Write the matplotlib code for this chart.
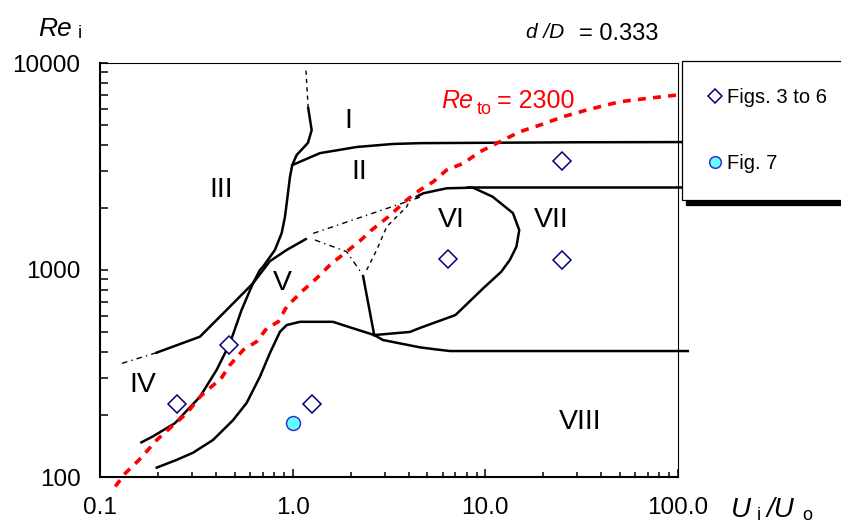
import matplotlib
matplotlib.use('Agg')
import matplotlib.pyplot as plt
from matplotlib.lines import Line2D
from matplotlib.ticker import NullFormatter, FixedLocator

plt.rcParams['font.family'] = ['Liberation Sans', 'DejaVu Sans']

W, H = 841, 525

curve_a_x = [0.164, 0.188, 0.245, 0.330, 0.403, 0.473, 0.543, 0.622, 0.676, 0.703, 0.809,
             0.877, 0.912, 0.931, 0.968, 0.995, 1.049, 1.200, 1.255, 1.204]
curve_a_y = [147, 157, 182, 244, 329, 444, 641, 862, 1000, 1040, 1250,
             1508, 1808, 2100, 2810, 3213, 3595, 4110, 4740, 6060]
curve_a_top_x = [1.204, 1.172]
curve_a_top_y = [6060, 9250]

curve_e_x = [0.197, 0.330, 0.454, 0.622, 0.762, 0.931, 1.17]
curve_e_y = [399, 476, 641, 862, 1103, 1250, 1410]
curve_e_tail_x = [0.130, 0.197]
curve_e_tail_y = [354, 399]

curve_b_x = [0.995, 1.387, 2.156, 3.316, 4.58, 30.0, 104.7]
curve_b_y = [3213, 3670, 3930, 4063, 4100, 4140, 4150]

loop_x = [2.65, 4.06, 4.58, 7.0, 9.75, 12.1, 13.4, 14.5, 15.0, 13.9, 10.9, 8.62, 6.29, 4.76, 4.40]
loop_y = [485, 502, 525, 606, 816, 981, 1118, 1296, 1559, 1884, 2261, 2500, 2481, 2347, 2261]
top_line_x = [8.0, 104.7]
top_line_y = [2530, 2530]
stem_x = [2.32, 2.65]
stem_y = [935, 485]

curve_d_x = [0.197, 0.250, 0.304, 0.386, 0.490, 0.577, 0.676, 0.762, 0.859, 0.931, 1.091,
             1.618, 1.823, 2.65, 2.942, 3.606, 4.58, 5.48, 6.55, 112.5]
curve_d_y = [111, 121, 131, 151, 188, 228, 305, 397, 503, 542, 562,
             562, 542, 485, 459, 442, 423, 414, 406, 406]

dot1_x = [1.279, 4.67]
dot1_y = [1503, 2261]
dot2_x = [1.306, 1.906, 2.280]
dot2_y = [1396, 1226, 964]
dot3_x = [2.421, 2.729, 3.076, 3.906, 4.06]
dot3_y = [1000, 1250, 1618, 2021, 2178]

# Re_to = 2300 line
red_x = [0.120, 0.135, 0.161, 0.197, 0.240, 0.282, 0.330, 0.387, 0.420, 0.473, 0.554, 0.650,
         0.733, 0.841, 0.931, 1.114, 1.333, 1.594, 1.906, 2.280, 2.570, 3.136, 3.906, 4.58,
         5.37, 6.29, 7.68, 9.38, 11.9, 15.1, 19.2, 25.4, 33.6, 49.9, 68.7, 98.3, 104]
red_y = [90, 104, 122, 151, 178, 203, 244, 278, 294, 348, 411, 451,
         522, 562, 665, 786, 913, 1077, 1226, 1406, 1559, 1808, 2178, 2435,
         2670, 3040, 3275, 3726, 4165, 4655, 5013, 5505, 5930, 6500, 6740, 6995, 7000]

# experiment points
figs36_x = [0.25, 0.47, 1.26, 6.42, 25, 25]
figs36_y = [225, 435, 225, 1127, 1118, 3375]
fig7_x = [1.0]
fig7_y = [182]

regions = ['I', 'II', 'III', 'IV', 'V', 'VI', 'VII', 'VIII']
region_x = [1.944, 2.208, 0.425, 0.167, 0.885, 6.67, 22.1, 30.9]
region_y = [5245, 2985, 2435, 278, 861, 1744, 1744, 185]

xticks = [0.1, 1, 10, 100]
xticklabels = ['0.1', '1.0', '10.0', '100.0']
yticks = [100, 1000, 10000]
yticklabels = ['100', '1000', '10000']

fig = plt.figure(figsize=(W / 100, H / 100), dpi=100)
ax = fig.add_axes([100 / W, 48 / H, 578 / W, 414 / H])
ax.set_xscale('log')
ax.set_yscale('log')
ax.set_xlim(0.1, 100)
ax.set_ylim(100, 10000)

solid = dict(color='black', lw=1.8, clip_on=False, solid_joinstyle='round')
dots = dict(color='black', lw=1.0, clip_on=False)
ax.plot(curve_a_x, curve_a_y, **solid)
ax.plot(curve_e_x, curve_e_y, **solid)
ax.plot(curve_b_x, curve_b_y, **solid)
ax.plot(loop_x, loop_y, **solid)
ax.plot(top_line_x, top_line_y, **solid)
ax.plot(stem_x, stem_y, **solid)
ax.plot(curve_d_x, curve_d_y, **solid)
ax.plot(curve_a_top_x, curve_a_top_y, ls=(0, (3, 3)), **dots)
ax.plot(curve_e_tail_x, curve_e_tail_y, ls=(0, (4, 3, 1, 3)), **dots)
ax.plot(dot1_x, dot1_y, ls=(0, (4, 3, 1, 3)), **dots)
ax.plot(dot2_x, dot2_y, ls=(0, (4, 3, 1, 3)), **dots)
ax.plot(dot3_x, dot3_y, ls=(0, (3, 3)), **dots)

ax.plot(red_x, red_y, color='#FF0000', lw=2.6, ls=(0, (2.2, 2.0)), clip_on=False)

ax.plot(figs36_x, figs36_y, ls='none', marker='D', ms=9, mfc='white', mec='#000080',
        mew=1.1, zorder=3)
ax.plot(fig7_x, fig7_y, ls='none', marker='o', ms=10, mfc='#66FFFF', mec='#3333CC',
        mew=1.1, zorder=3)

for lab, x, y in zip(regions, region_x, region_y):
    ax.text(x, y, lab, fontsize=20.5, ha='center', va='center')

ax.xaxis.set_major_locator(FixedLocator(xticks))
ax.set_xticklabels(xticklabels)
ax.yaxis.set_major_locator(FixedLocator(yticks))
ax.set_yticklabels(yticklabels)
ax.xaxis.set_minor_formatter(NullFormatter())
ax.yaxis.set_minor_formatter(NullFormatter())
ax.tick_params(axis='both', which='both', direction='in', width=1.1, labelsize=17.5,
               top=False, right=False)
ax.tick_params(axis='y', which='both', length=5.8, pad=14)
ax.tick_params(axis='x', which='major', length=5.8, pad=14.5)
ax.tick_params(axis='x', which='minor', length=3.6)
ax.spines['left'].set_linewidth(1.5)
ax.spines['bottom'].set_linewidth(1.5)
ax.spines['top'].set_linewidth(0.8)
ax.spines['right'].set_linewidth(0.8)


def ftext(xp, yp, s, **kw):
    fig.text(xp / W, 1 - yp / H, s, va='baseline', **kw)


# axis titles
ftext(38, 36, 'Re', fontsize=19, style='italic')
ftext(78, 38.5, 'i', fontsize=13)
ftext(731, 517, 'U', fontsize=20, style='italic')
ftext(757, 520, 'i', fontsize=13)
ftext(767, 517, '/U', fontsize=20, style='italic')
ftext(802, 520, 'o', fontsize=13)
ftext(526, 38.5, 'd /D', fontsize=15, style='italic')
ftext(579, 39.5, '= 0.333', fontsize=17)
ftext(441, 108.5, 'Re', fontsize=18, style='italic', color='#FF0000')
ftext(476.5, 113.5, 'to', fontsize=13, color='#FF0000')
ftext(497, 108.5, '= 2300', fontsize=18, color='#FF0000')

handles = [
    Line2D([], [], ls='none', marker='D', ms=6.8, mfc='white', mec='#000080', mew=1.1),
    Line2D([], [], ls='none', marker='o', ms=8.4, mfc='#66FFFF', mec='#3333CC', mew=1.1),
]
leg = ax.legend(handles, ['Figs. 3 to 6', 'Fig. 7'], loc='upper left',
                bbox_to_anchor=(682 / W, 1 - 61 / H), bbox_transform=fig.transFigure,
                borderaxespad=0, fontsize=14.5, borderpad=1.32, handlelength=0.64,
                handletextpad=0.26, labelspacing=2.36, fancybox=False, framealpha=1,
                edgecolor='black', shadow={'ox': 3, 'oy': -4, 'color': 'black', 'alpha': 1})
leg.get_frame().set_linewidth(0.9)

fig.savefig('out.png', dpi=100)
